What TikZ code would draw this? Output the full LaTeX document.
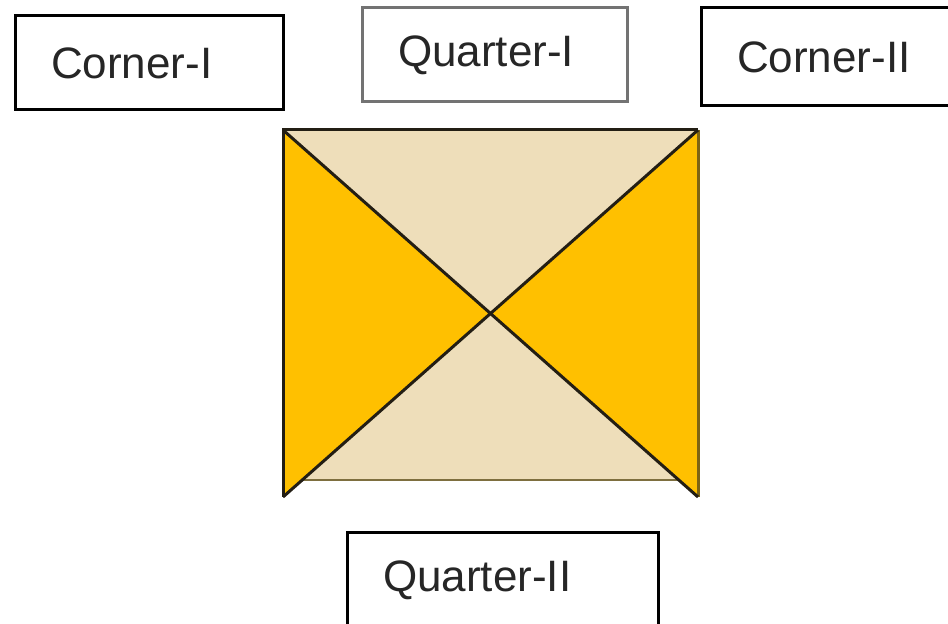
\documentclass[tikz,border=0pt]{standalone}
\usepackage{fontspec}
\setmainfont{Liberation Sans}
\usetikzlibrary{positioning}
\definecolor{qYellow}{RGB}{255,192,0}
\definecolor{qSand}{RGB}{238,222,186}
\definecolor{qEdge}{RGB}{35,30,20}
\definecolor{qOlive}{RGB}{125,100,20}
\tikzset{
    cbox/.style={rectangle, draw=#1, line width=1.5pt, align=left, inner xsep=18pt,
                 minimum height=47pt, font=\fontsize{22}{26}\selectfont, text=black!85},
    cbox/.default=black,
    xline/.style={line width=1.5pt, draw=qEdge}
}
\begin{document}
\begin{tikzpicture}[x=0.5pt, y=-0.5pt]
    \useasboundingbox (0,0) rectangle (948,624);
    % labels round the square
    \node[cbox, text width=98pt] (cornerI) at (149,63) {Corner-I};
    \node[cbox=black!55, text width=96.5pt] (quarterI) at (494.5,55) {Quarter-I};
    \node[cbox, text width=94pt, minimum height=49pt] (cornerII) at (831,57) {Corner-II};
    \node[cbox, text width=119.5pt] (quarterII) at (502.5,580) {Quarter-II};
    % the square
    \coordinate (tl) at (283,130);
    \coordinate (tr) at (698,130);
    \coordinate (bl) at (283,497);
    \coordinate (br) at (698,497);
    \coordinate (mid) at (490.5,313.5);
    \coordinate (bbl) at (302,480);
    \coordinate (bbr) at (680,480);
    \fill[qYellow] (tl) -- (mid) -- (bl) -- cycle;
    \fill[qYellow] (tr) -- (mid) -- (br) -- cycle;
    \fill[qSand] (tl) -- (tr) -- (mid) -- cycle;
    \fill[qSand] (mid) -- (bbl) -- (bbr) -- cycle;
    \draw[qOlive!60!gray, line width=1.2pt] (bbl) -- (bbr);
    \draw[qOlive, line width=1.5pt] (tr) -- (br);
    \draw[xline] (bl) -- (tl) -- (tr);
    \draw[xline] (tl) -- (br);
    \draw[xline] (tr) -- (bl);
\end{tikzpicture}
\end{document}
